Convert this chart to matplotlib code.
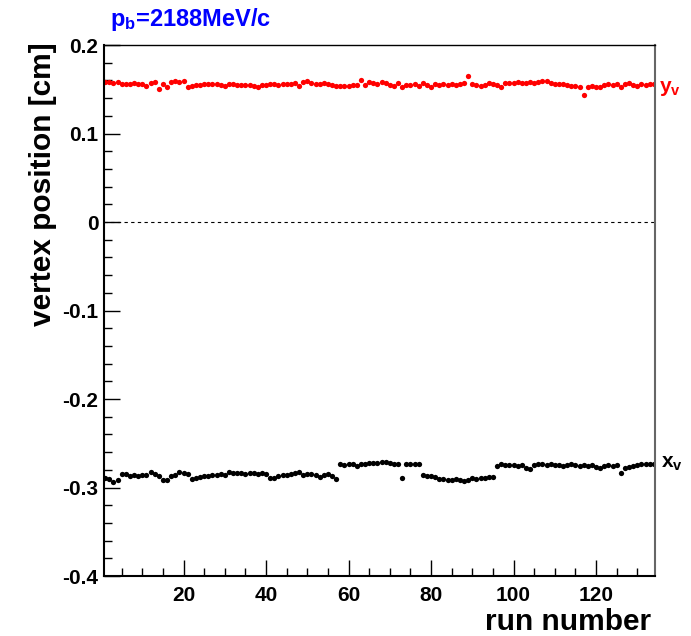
# Vertex position per run for p_b = 2188 MeV/c
from matplotlib import pyplot as plt
import numpy as np

plt.rcParams['font.family'] = ['Liberation Sans', 'DejaVu Sans']
plt.rcParams['font.weight'] = 'bold'
plt.rcParams['mathtext.fontset'] = 'custom'
plt.rcParams['mathtext.rm'] = 'Liberation Sans:bold'
plt.rcParams['mathtext.it'] = 'Liberation Sans:bold'
plt.rcParams['mathtext.bf'] = 'Liberation Sans:bold'
plt.rcParams['mathtext.default'] = 'bf'

# y vertex per run (runs 1..134)
y_vertex = [
    0.158, 0.158, 0.157, 0.158, 0.156, 0.156, 0.156, 0.157, 0.156, 0.156,
    0.154, 0.157, 0.158, 0.150, 0.156, 0.153, 0.158, 0.159, 0.158, 0.159,
    0.153, 0.154, 0.155, 0.155, 0.156, 0.156, 0.156, 0.156, 0.155, 0.154,
    0.156, 0.156, 0.155, 0.155, 0.155, 0.155, 0.154, 0.153, 0.155, 0.155,
    0.156, 0.156, 0.155, 0.156, 0.156, 0.156, 0.157, 0.154, 0.158, 0.159,
    0.157, 0.156, 0.156, 0.157, 0.156, 0.155, 0.154, 0.154, 0.154, 0.154,
    0.155, 0.155, 0.160, 0.155, 0.158, 0.157, 0.156, 0.158, 0.157, 0.155,
    0.154, 0.157, 0.153, 0.155, 0.155, 0.156, 0.154, 0.157, 0.155, 0.152,
    0.156, 0.155, 0.156, 0.155, 0.156, 0.155, 0.156, 0.157, 0.165, 0.156,
    0.155, 0.154, 0.155, 0.157, 0.156, 0.155, 0.153, 0.157, 0.157, 0.157,
    0.158, 0.157, 0.157, 0.158, 0.157, 0.158, 0.159, 0.159, 0.157, 0.156,
    0.156, 0.156, 0.155, 0.154, 0.154, 0.153, 0.144, 0.153, 0.154, 0.153,
    0.152, 0.155, 0.156, 0.155, 0.156, 0.153, 0.156, 0.157, 0.155, 0.154,
    0.156, 0.155, 0.156, 0.156,
]

# x vertex per run (runs 1..134)
x_vertex = [
    -0.289, -0.290, -0.294, -0.292, -0.285, -0.285, -0.287, -0.286, -0.287, -0.286,
    -0.286, -0.282, -0.285, -0.287, -0.292, -0.291, -0.287, -0.286, -0.283, -0.284,
    -0.285, -0.290, -0.289, -0.288, -0.287, -0.287, -0.286, -0.286, -0.285, -0.286,
    -0.283, -0.284, -0.284, -0.284, -0.285, -0.284, -0.284, -0.285, -0.284, -0.285,
    -0.289, -0.289, -0.287, -0.286, -0.286, -0.285, -0.284, -0.283, -0.286, -0.285,
    -0.285, -0.286, -0.288, -0.286, -0.285, -0.287, -0.290, -0.274, -0.275, -0.274,
    -0.274, -0.276, -0.273, -0.273, -0.272, -0.272, -0.272, -0.271, -0.271, -0.272,
    -0.273, -0.273, -0.2895, -0.274, -0.274, -0.273, -0.273, -0.286, -0.287, -0.287,
    -0.288, -0.290, -0.290, -0.291, -0.291, -0.290, -0.292, -0.293, -0.291, -0.289,
    -0.290, -0.289, -0.289, -0.288, -0.288, -0.276, -0.274, -0.275, -0.275, -0.275,
    -0.276, -0.275, -0.278, -0.279, -0.275, -0.274, -0.274, -0.275, -0.274, -0.275,
    -0.275, -0.276, -0.275, -0.274, -0.275, -0.276, -0.275, -0.276, -0.275, -0.277,
    -0.278, -0.276, -0.275, -0.276, -0.275, -0.284, -0.278, -0.277, -0.276, -0.275,
    -0.274, -0.273, -0.274, -0.273,
]

x_ticks = [20, 40, 60, 80, 100, 120]
y_ticks = [-0.4, -0.3, -0.2, -0.1, 0, 0.1, 0.2]
y_tick_labels = ["-0.4", "-0.3", "-0.2", "-0.1", "0", "0.1", "0.2"]

runs = np.arange(1, len(y_vertex) + 1)

fig = plt.figure(figsize=(6.91, 6.36), dpi=100)
ax = fig.add_axes([104 / 691, 1 - 576 / 636, (655 - 104) / 691, (576 - 45) / 636])

ax.axhline(0, color="black", lw=0.8, ls=(0, (3, 3)))
ax.plot(runs, y_vertex, "o", color="#ff0000", ms=3.8, mew=0)
ax.plot(np.arange(1, len(x_vertex) + 1), x_vertex, "o", color="black", ms=3.8, mew=0)

ax.set_xlim(0.7, 134.3)
ax.set_ylim(-0.4, 0.2)
ax.set_xticks(x_ticks)
ax.set_xticks(np.arange(5, 135, 5), minor=True)
ax.set_yticks(y_ticks)
ax.set_yticklabels(y_tick_labels)
ax.set_yticks(np.arange(-0.4, 0.2001, 0.02), minor=True)

ax.tick_params(which="both", direction="in", top=False, right=False, labelsize=15)
ax.tick_params(which="major", length=11.5, width=1.0)
ax.tick_params(which="minor", length=5.8, width=1.0)
ax.tick_params(axis="x", pad=7)
ax.tick_params(axis="y", pad=4)

for side in ["left", "bottom"]:
    ax.spines[side].set_linewidth(1.5)
ax.spines["top"].set_linewidth(1.0)
ax.spines["right"].set_color("#666666")
ax.spines["right"].set_linewidth(1.5)

fig.text(651 / 691, 1 - 630 / 636, "run number", fontsize=21.5,
         ha="right", va="baseline")
fig.text(43 / 691, 1 - 42 / 636, "vertex position [cm]", fontsize=21.5,
         rotation=90, ha="center", va="top")
fig.text(110 / 691, 1 - 26 / 636, r"$p_{b}$=2188MeV/c", fontsize=17,
         color="#0000ff", ha="left", va="baseline")
fig.text(659 / 691, 1 - 92 / 636, r"$y_{v}$", fontsize=15, color="#ff0000",
         ha="left", va="baseline")
fig.text(661 / 691, 1 - 468 / 636, r"$x_{v}$", fontsize=15, color="black",
         ha="left", va="baseline")

plt.savefig("out.png", dpi=100)
